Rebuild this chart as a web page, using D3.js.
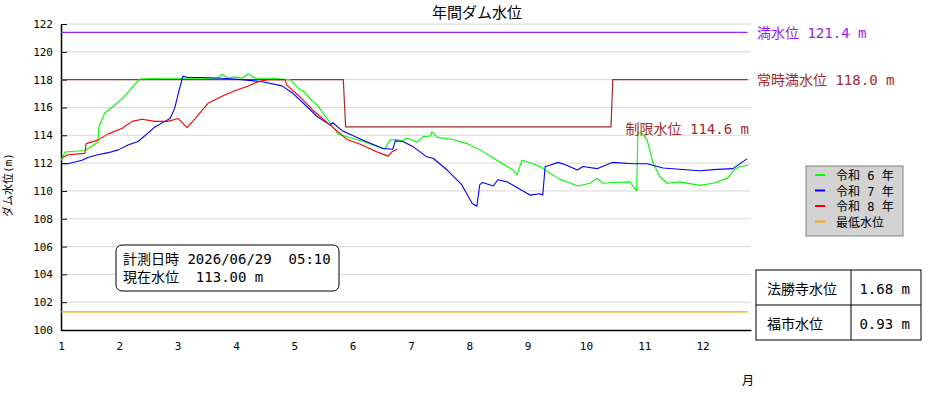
<!DOCTYPE html>
<html>
<head>
<meta charset="utf-8">
<script src="https://cdn.jsdelivr.net/npm/d3@7"></script>
<style>
  body { margin: 0; background: #fff; }
  svg text { font-family: "DejaVu Sans Mono", "Noto Sans CJK JP", monospace; }
</style>
</head>
<body>
<svg id="chart" width="950" height="400"></svg>
<script>
const width = 950;
const height = 400;

// month ticks and y ticks
const monthTicks = [1, 2, 3, 4, 5, 6, 7, 8, 9, 10, 11, 12];
const levelTicks = [100, 102, 104, 106, 108, 110, 112, 114, 116, 118, 120, 122];

// 令和6年 [month, level]
const r6 = [
  [1.0, 112.2], [1.07, 112.8], [1.41, 112.9], [1.63, 113.5], [1.65, 114.6],
  [1.75, 115.6], [1.89, 116.05], [2.05, 116.65], [2.13, 117.0], [2.23, 117.5],
  [2.35, 118.05], [2.7, 118.1], [3.38, 118.1], [3.69, 118.1], [3.76, 118.4],
  [3.86, 118.1], [3.98, 118.2], [4.1, 118.1], [4.21, 118.4], [4.33, 118.1],
  [4.58, 118.1], [4.89, 118.0], [4.93, 118.0], [5.1, 117.25], [5.15, 117.2],
  [5.32, 116.4], [5.39, 116.2], [5.49, 115.6], [5.61, 114.9], [5.75, 114.1],
  [5.9, 113.9], [6.18, 113.55], [6.42, 113.2], [6.55, 113.0], [6.64, 113.65],
  [6.73, 113.7], [6.86, 113.6], [6.93, 113.8], [7.1, 113.5], [7.21, 113.9],
  [7.33, 113.95], [7.36, 114.25], [7.45, 113.85], [7.72, 113.7], [7.96, 113.4],
  [8.18, 112.95], [8.47, 112.2], [8.75, 111.5], [8.82, 111.15], [8.9, 112.2],
  [8.99, 112.1], [9.21, 111.75], [9.52, 110.9], [9.86, 110.35], [10.07, 110.55],
  [10.19, 110.9], [10.29, 110.55], [10.46, 110.6], [10.75, 110.65], [10.87, 110.0],
  [10.89, 114.2], [10.96, 114.15], [11.05, 113.65], [11.15, 112.0], [11.27, 111.0],
  [11.39, 110.55], [11.61, 110.65], [11.95, 110.4], [12.18, 110.55], [12.42, 110.9],
  [12.55, 111.55], [12.64, 111.75], [12.78, 111.85]
];

// 令和7年
const r7 = [
  [1.0, 111.95], [1.12, 111.95], [1.36, 112.2], [1.46, 112.4], [1.63, 112.6],
  [1.81, 112.75], [1.98, 112.95], [2.15, 113.3], [2.32, 113.55], [2.49, 114.15],
  [2.61, 114.6], [2.78, 115.0], [2.87, 115.2], [2.95, 115.95], [3.01, 117.0],
  [3.09, 118.25], [3.18, 118.15], [3.42, 118.15], [3.76, 118.1], [4.1, 118.0],
  [4.45, 117.85], [4.79, 117.55], [4.98, 117.0], [5.22, 116.05], [5.39, 115.35],
  [5.61, 114.75], [5.66, 114.9], [5.83, 114.3], [6.18, 113.65], [6.52, 113.05],
  [6.69, 113.0], [6.73, 113.6], [6.86, 113.55], [7.03, 113.2], [7.27, 112.45],
  [7.38, 112.35], [7.62, 111.5], [7.87, 110.45], [8.05, 109.1], [8.13, 108.9],
  [8.18, 110.45], [8.23, 110.6], [8.41, 110.35], [8.49, 110.8], [8.65, 110.65],
  [8.75, 110.4], [9.04, 109.7], [9.21, 109.8], [9.26, 109.7], [9.3, 111.75],
  [9.38, 111.85], [9.52, 112.05], [9.67, 111.85], [9.85, 111.5], [9.95, 111.75],
  [10.19, 111.6], [10.45, 112.05], [10.81, 111.95], [11.05, 111.95], [11.32, 111.65],
  [11.95, 111.45], [12.25, 111.55], [12.52, 111.6], [12.76, 112.3]
];

// 令和8年
const r8 = [
  [1.0, 112.35], [1.12, 112.6], [1.41, 112.7], [1.43, 113.4], [1.63, 113.65],
  [1.81, 114.1], [2.05, 114.5], [2.22, 115.0], [2.39, 115.15], [2.61, 115.0],
  [2.83, 115.0], [3.01, 115.2], [3.16, 114.55], [3.3, 115.2], [3.52, 116.3],
  [3.76, 116.8], [3.98, 117.2], [4.21, 117.55], [4.38, 117.85], [4.55, 118.0],
  [4.84, 118.0], [4.87, 117.6], [5.1, 116.75], [5.32, 115.8], [5.61, 114.75],
  [5.9, 113.7], [6.13, 113.35], [6.42, 112.8], [6.61, 112.5], [6.67, 112.8],
  [6.76, 113.0]
];

// 常時満水位 / 制限水位 rule
const ruleLevel = [
  [1.0, 118.0], [5.84, 118.0], [5.88, 114.6], [10.43, 114.6], [10.46, 118.0], [12.77, 118.0]
];
const fullLevel = 121.4;
const minLevel = 101.3;
const xEnd = 12.77;

const seriesNames = ["令和 6 年", "令和 7 年", "令和 8 年", "最低水位"];
const seriesColors = ["#00ff00", "#0000ff", "#ff0000", "#ffa500"];

const svg = d3.select("#chart");

const x = d3.scaleLinear().domain([1, 12.83]).range([61, 751]);
const y = d3.scaleLinear().domain([100, 122]).range([330, 24]);

// grid
svg.append("g")
  .selectAll("line")
  .data(levelTicks.filter((d) => d > 100))
  .join("line")
  .attr("x1", 66)
  .attr("x2", 751)
  .attr("y1", (d) => y(d))
  .attr("y2", (d) => y(d))
  .attr("stroke", "#d8d8d8")
  .attr("stroke-width", 1);

// axes
const yAxis = svg.append("g")
  .attr("transform", "translate(61,0)")
  .call(d3.axisLeft(y).tickValues(levelTicks).tickSizeInner(-6).tickSizeOuter(0).tickPadding(8).tickFormat(d3.format("d")));
yAxis.selectAll("text").attr("font-size", 11).attr("fill", "#000");

const xAxis = svg.append("g")
  .attr("transform", "translate(0,330)")
  .call(d3.axisBottom(x).tickValues(monthTicks).tickSize(0).tickPadding(12).tickFormat(d3.format("d")));
xAxis.selectAll("text").attr("font-size", 11).attr("fill", "#000");
xAxis.select(".domain").attr("stroke-width", 1.5);
yAxis.select(".domain").attr("stroke-width", 1.5);

const line = d3.line().x((d) => x(d[0])).y((d) => y(d[1]));

// rule lines
svg.append("path")
  .datum([[1, fullLevel], [xEnd, fullLevel]])
  .attr("d", line)
  .attr("fill", "none")
  .attr("stroke", "#a020f0")
  .attr("stroke-width", 1.2);

svg.append("path")
  .datum(ruleLevel)
  .attr("d", line)
  .attr("fill", "none")
  .attr("stroke", "#a52a2a")
  .attr("stroke-width", 1.2);

svg.append("path")
  .datum([[1, minLevel], [xEnd, minLevel]])
  .attr("d", line)
  .attr("fill", "none")
  .attr("stroke", seriesColors[3])
  .attr("stroke-width", 1.2);

// year lines
[r6, r7, r8].forEach((data, i) => {
  svg.append("path")
    .datum(data)
    .attr("d", line)
    .attr("fill", "none")
    .attr("stroke", seriesColors[i])
    .attr("stroke-width", 1.1)
    .attr("stroke-linejoin", "round");
});

// rule labels
svg.append("text")
  .attr("x", 757).attr("y", y(fullLevel) + 6)
  .attr("font-size", 14).attr("fill", "#a020f0")
  .text("満水位 " + fullLevel.toFixed(1) + " m");

svg.append("text")
  .attr("x", 757).attr("y", y(118) + 5)
  .attr("font-size", 14).attr("fill", "#a52a2a")
  .text("常時満水位 118.0 m");

svg.append("text")
  .attr("x", 749).attr("y", y(114.6) + 7)
  .attr("text-anchor", "end")
  .attr("font-size", 14).attr("fill", "#a52a2a")
  .text("制限水位 114.6 m");

// title and axis labels
svg.append("text")
  .attr("x", 477).attr("y", 18)
  .attr("text-anchor", "middle")
  .attr("font-size", 15)
  .text("年間ダム水位");

svg.append("text")
  .attr("transform", "translate(12,185) rotate(-90)")
  .attr("text-anchor", "middle")
  .attr("font-size", 11)
  .text("ダム水位(m)");

svg.append("text")
  .attr("x", 748).attr("y", 385)
  .attr("text-anchor", "middle")
  .attr("font-size", 12)
  .text("月");

// legend
const legend = svg.append("g").attr("transform", "translate(806,166)");
legend.append("rect")
  .attr("width", 97).attr("height", 70)
  .attr("fill", "#d3d3d3")
  .attr("stroke", "#808080");
seriesNames.forEach((name, i) => {
  const ly = 9 + i * 15.5;
  legend.append("line")
    .attr("x1", 9).attr("x2", 19)
    .attr("y1", ly).attr("y2", ly)
    .attr("stroke", seriesColors[i])
    .attr("stroke-width", 2);
  legend.append("text")
    .attr("x", 30).attr("y", ly + 5)
    .attr("font-size", 12)
    .text(name);
});

// info box
const info = svg.append("g").attr("transform", "translate(116,245)");
info.append("rect")
  .attr("width", 223).attr("height", 46)
  .attr("rx", 6)
  .attr("fill", "#fff")
  .attr("stroke", "#000");
info.append("text").attr("x", 7).attr("y", 19).attr("font-size", 14)
  .attr("xml:space", "preserve").style("white-space", "pre")
  .text("計測日時 2026/06/29  05:10");
info.append("text").attr("x", 7).attr("y", 37).attr("font-size", 14)
  .style("white-space", "pre")
  .text("現在水位  113.00 m");

// station table
const stations = ["法勝寺水位", "福市水位"];
const stationValues = ["1.68 m", "0.93 m"];
const table = svg.append("g").attr("transform", "translate(756,270)");
table.append("rect").attr("width", 165).attr("height", 70).attr("fill", "#fff").attr("stroke", "#000");
table.append("line").attr("x1", 95).attr("x2", 95).attr("y1", 0).attr("y2", 70).attr("stroke", "#000");
table.append("line").attr("x1", 0).attr("x2", 165).attr("y1", 35).attr("y2", 35).attr("stroke", "#000");
stations.forEach((s, i) => {
  table.append("text").attr("x", 11).attr("y", 24 + i * 35).attr("font-size", 14).text(s);
  table.append("text").attr("x", 154).attr("y", 24 + i * 35).attr("font-size", 14)
    .attr("text-anchor", "end").text(stationValues[i]);
});
</script>
</body>
</html>
